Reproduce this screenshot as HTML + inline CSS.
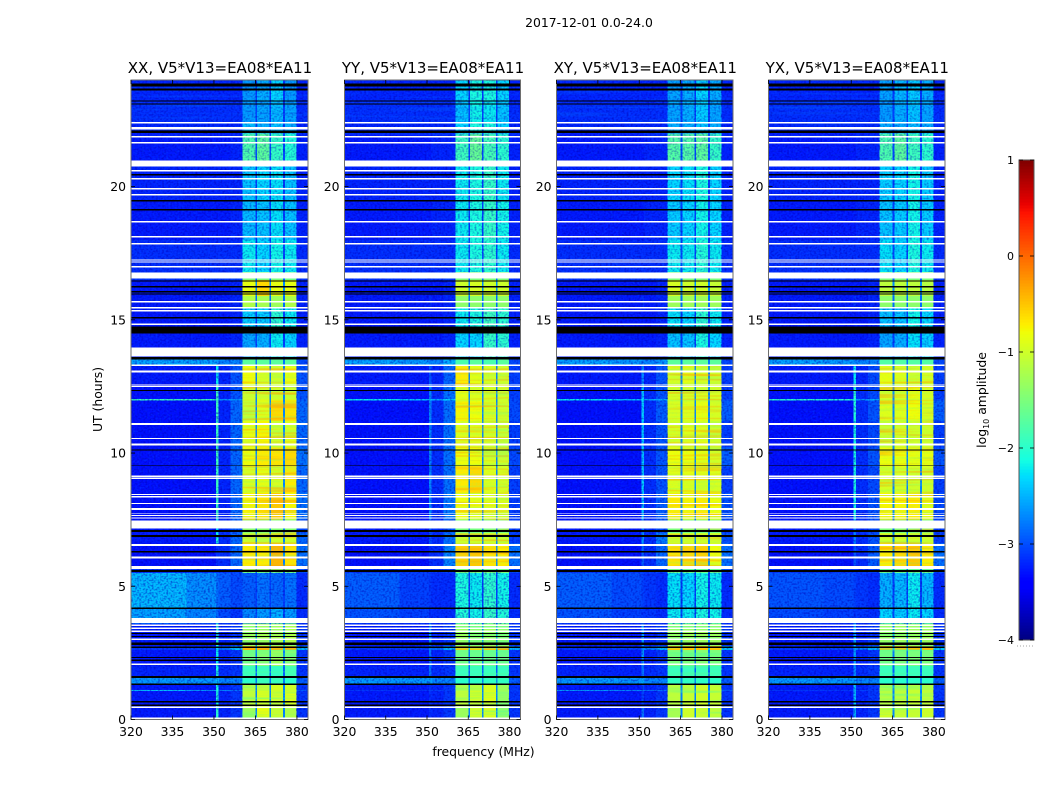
<!DOCTYPE html>
<html lang="en">
<head>
<meta charset="utf-8">
<title>2017-12-01 0.0-24.0</title>
<style>
html,body{margin:0;padding:0;background:#fff;width:1050px;height:800px;overflow:hidden}
svg{display:block}
text{font-family:"DejaVu Sans","Liberation Sans",sans-serif;fill:#000}
</style>
</head>
<body>
<svg id="figure" width="1050" height="800" viewBox="0 0 1050 800" xmlns="http://www.w3.org/2000/svg">
<defs>
<filter id="grainDark" x="0" y="0" width="100%" height="100%" color-interpolation-filters="sRGB">
<feTurbulence type="fractalNoise" baseFrequency="0.48 0.55" numOctaves="1" seed="4"/>
<feColorMatrix type="matrix" values="0 0 0 0 0  0 0 0 0 0  0 0 0 0 0.72  3 0 0 0 -1.3"/>
</filter>
<filter id="grainLight" x="0" y="0" width="100%" height="100%" color-interpolation-filters="sRGB">
<feTurbulence type="fractalNoise" baseFrequency="0.45 0.55" numOctaves="1" seed="11"/>
<feColorMatrix type="matrix" values="0 0 0 0 0  0 0 0 0 0.4  0 0 0 0 1  0 3 0 0 -1.55"/>
</filter>
<filter id="grainStripe" x="0" y="0" width="100%" height="100%" color-interpolation-filters="sRGB">
<feTurbulence type="fractalNoise" baseFrequency="0.012 0.38" numOctaves="1" seed="7"/>
<feColorMatrix type="matrix" values="0 0 0 0 1  0 0 0 0 0.62  0 0 0 0 0  4 0 0 0 -2"/>
</filter>
<filter id="grainGreenStripe" x="0" y="0" width="100%" height="100%" color-interpolation-filters="sRGB">
<feTurbulence type="fractalNoise" baseFrequency="0.015 0.42" numOctaves="1" seed="19"/>
<feColorMatrix type="matrix" values="0 0 0 0 0.3  0 0 0 0 1  0 0 0 0 0.6  0 4 0 0 -1.9"/>
</filter>
<filter id="grainGreen" x="0" y="0" width="100%" height="100%" color-interpolation-filters="sRGB">
<feTurbulence type="fractalNoise" baseFrequency="0.5 0.55" numOctaves="1" seed="23"/>
<feColorMatrix type="matrix" values="0 0 0 0 0.5  0 0 0 0 1  0 0 0 0 0.4  3 0 0 0 -1.45"/>
</filter>
<filter id="grainStreak" x="0" y="0" width="100%" height="100%" color-interpolation-filters="sRGB">
<feTurbulence type="fractalNoise" baseFrequency="0.008 0.45" numOctaves="1" seed="31"/>
<feColorMatrix type="matrix" values="0 0 0 0 0  0 0 0 0 0.45  0 0 0 0 1  3 0 0 0 -1.5"/>
</filter>
</defs>
<text x="589" y="27" font-size="12.4" text-anchor="middle">2017-12-01 0.0-24.0</text>
<text x="483.5" y="756" font-size="12.4" text-anchor="middle">frequency (MHz)</text>
<text transform="translate(102,399.5) rotate(-90)" font-size="12.4" text-anchor="middle">UT (hours)</text>
<text transform="translate(986,400) rotate(-90)" font-size="12.4" text-anchor="middle">log<tspan font-size="8" dy="3">10</tspan><tspan dy="-3"> amplitude</tspan></text>
<g id="panels"></g>
<g id="colorbar"></g>
</svg>
<script>
// ---- axis data ----
const xTicks = [320, 335, 350, 365, 380];
const yTicks = [0, 5, 10, 15, 20];
const cbTicks = [1, 0, -1, -2, -3, -4];
const panelTitles = ['XX, V5*V13=EA08*EA11', 'YY, V5*V13=EA08*EA11', 'XY, V5*V13=EA08*EA11', 'YX, V5*V13=EA08*EA11'];

// frequency bins (MHz): left, bg, line, near1, near2, b1, gap, b2, gap, b3, gap, b4, right
const freqEdges = [320, 340, 350.8, 351.7, 356, 360.3, 365, 365.6, 370, 370.6, 375, 375.6, 379.8, 384];

// time bins (hours, top to bottom)
const timeEdges = [24, 23.2, 22.4, 22, 20.9, 19.5, 18, 16.8, 16.5, 15.9, 15.45, 14.5, 13.55, 13.26, 12.6, 12.02, 11.97, 11.2, 10.2, 9.5, 8.5, 7.5, 7, 6.6, 5.7, 5.5, 4.2, 3.6, 2.75, 2.6, 2, 1.55, 1.35, 1.11, 1.07, 0.45, 0];

// log10 amplitude in the dips between receiver bands, one value per time bin
const gapLevels = [-3.1,-3.05,-3,-3,-3.05,-3.05,-3,-2.85,-2.7,-2.85,-3.05,-3.05,-2.8,-2.8,-2.75,-2.75,-2.75,-2.75,-2.75,-2.75,-2.75,-2.9,-2.75,-2.75,-2.9,-3.05,-3,-2.75,-2.5,-2.8,-2.9,-2.8,-2.75,-2.7,-2.75,-2.75];

// log10 amplitude outside the bands: [left, bg, line, near1, near2, right]
const contextXX = [
[-3.2,-3.2,-3.2,-3.2,-3.2,-3.2],[-3.15,-3.15,-3.15,-3.15,-3.15,-3.15],[-3.2,-3.2,-3.2,-3.2,-3.2,-3.2],[-3.25,-3.25,-3.25,-3.25,-3.2,-3.2],
[-3.2,-3.2,-3.2,-3.2,-3.2,-3.2],[-3.25,-3.25,-3.25,-3.25,-3.2,-3.2],[-3.15,-3.15,-3.15,-3.15,-3.15,-3.15],[-3.1,-3.1,-3.1,-3.1,-3.05,-3.1],
[-3.25,-3.25,-3.25,-3.25,-3.2,-3.2],[-3.25,-3.25,-3.25,-3.25,-3.2,-3.2],[-3.25,-3.25,-3.25,-3.25,-3.2,-3.2],[-3.25,-3.25,-3.25,-3.25,-3.2,-3.2],
[-2.55,-2.55,-2.6,-2.7,-2.7,-3],[-3.25,-3.25,-2.2,-3.2,-2.95,-2.95],[-3.3,-3.3,-1.9,-3.2,-2.95,-2.95],[-1.9,-1.9,-1.9,-2.6,-2.6,-2.9],
[-3.3,-3.3,-1.9,-3.2,-2.85,-2.85],[-3.3,-3.3,-1.9,-3.2,-2.85,-2.85],[-3.3,-3.3,-1.9,-3.2,-2.85,-2.8],[-3.3,-3.3,-1.9,-3.2,-2.85,-2.85],
[-3.3,-3.3,-1.9,-3.2,-2.85,-2.8],[-3.25,-3.25,-2.3,-3.15,-2.9,-3],[-3.25,-3.25,-2.1,-3.15,-2.85,-2.85],[-3.3,-3.3,-3.15,-3.15,-2.85,-2.8],
[-3.1,-3.1,-3.1,-3.1,-3.05,-3],[-2.45,-2.65,-2.8,-2.9,-3,-3.15],[-2.55,-2.7,-2.85,-3,-3.1,-3.15],[-3.25,-3.25,-2,-3.2,-3.1,-3.1],
[-3.1,-3.05,-2.3,-2.8,-2.4,-2.5],[-3.25,-3.25,-2.2,-3.2,-3.1,-3.1],[-3.2,-3.2,-2.1,-3.15,-3.1,-3.1],[-2.6,-2.6,-2.3,-2.7,-2.7,-2.9],
[-3.25,-3.25,-2.1,-3.2,-3.1,-3.1],[-2.4,-2.6,-2.1,-2.7,-2.8,-2.9],[-3.25,-3.25,-2.1,-3.2,-3.1,-3.1],[-3.25,-3.25,-2,-3.2,-3.1,-3.1]
];
const contextYY = [
[-3.2,-3.2,-3.2,-3.2,-3.2,-3.2],[-3.15,-3.15,-3.15,-3.15,-3.15,-3.15],[-3.2,-3.2,-3.2,-3.2,-3.2,-3.2],[-3.25,-3.25,-3.25,-3.2,-3.2,-3.2],
[-3.2,-3.2,-3.2,-3.2,-3.2,-3.2],[-3.25,-3.25,-3.25,-3.2,-3.2,-3.2],[-3.15,-3.15,-3.15,-3.15,-3.15,-3.15],[-3.1,-3.1,-3.1,-3.1,-3.05,-3.1],
[-3.25,-3.25,-3.25,-3.25,-3.2,-3.2],[-3.25,-3.25,-3.15,-3.25,-3.2,-3.2],[-3.25,-3.25,-3.25,-3.25,-3.2,-3.2],[-3.25,-3.25,-3.25,-3.25,-3.2,-3.2],
[-2.55,-2.6,-2.7,-2.7,-2.5,-3],[-3.25,-3.25,-2.95,-3.2,-2.85,-3.05],[-3.3,-3.3,-2.7,-3.15,-2.8,-3.05],[-2.2,-2.4,-2.4,-2.5,-2.3,-3],
[-3.3,-3.3,-2.7,-3.15,-2.8,-3],[-3.3,-3.3,-2.7,-3.15,-2.8,-3.05],[-3.3,-3.3,-2.7,-3.15,-2.8,-3],[-3.3,-3.3,-2.7,-3.15,-2.8,-3.05],
[-3.3,-3.3,-2.65,-3.15,-2.75,-3.05],[-3.25,-3.25,-2.95,-3.15,-2.9,-3.05],[-3.25,-3.25,-2.95,-3.15,-2.8,-3.05],[-3.3,-3.3,-3.15,-3.15,-2.7,-2.8],
[-3.1,-3.1,-3.1,-3.1,-3.05,-3],[-2.9,-3.05,-3.1,-3.15,-3.15,-3.15],[-2.95,-3.05,-3.15,-3.15,-3.15,-3.15],[-3.25,-3.25,-2.65,-3.2,-3.1,-3.1],
[-3.1,-3.05,-2.75,-2.85,-2.5,-2.5],[-3.25,-3.25,-2.8,-3.2,-3.1,-3.1],[-3.2,-3.2,-2.8,-3.15,-3.1,-3.1],[-2.6,-2.6,-2.5,-2.7,-2.7,-2.9],
[-3.25,-3.25,-3.15,-3.2,-3.1,-3.1],[-3.1,-3.1,-3.05,-3.05,-3.05,-3.05],[-3.25,-3.25,-3.15,-3.2,-3.1,-3.1],[-3.25,-3.25,-3.15,-3.2,-3.1,-3.1]
];
const contextXY = [
[-3.2,-3.2,-3.2,-3.2,-3.2,-3.2],[-3.15,-3.15,-3.15,-3.15,-3.15,-3.15],[-3.2,-3.2,-3.2,-3.2,-3.2,-3.2],[-3.25,-3.25,-3.25,-3.2,-3.2,-3.2],
[-3.2,-3.2,-3.2,-3.2,-3.2,-3.2],[-3.25,-3.25,-3.25,-3.2,-3.2,-3.2],[-3.15,-3.15,-3.15,-3.15,-3.15,-3.15],[-3.1,-3.1,-3.1,-3.1,-3.05,-3.1],
[-3.25,-3.25,-3.25,-3.25,-3.2,-3.2],[-3.25,-3.25,-3.15,-3.25,-3.2,-3.2],[-3.25,-3.25,-3.25,-3.25,-3.2,-3.2],[-3.25,-3.25,-3.25,-3.25,-3.2,-3.2],
[-2.55,-2.6,-2.7,-2.7,-2.6,-3],[-3.25,-3.25,-2.7,-3.2,-2.95,-3.05],[-3.3,-3.3,-2.4,-3.15,-2.95,-3.05],[-2.2,-2.4,-2.3,-2.5,-2.5,-3],
[-3.3,-3.3,-2.35,-3.15,-2.9,-2.9],[-3.3,-3.3,-2.4,-3.15,-2.95,-3.05],[-3.3,-3.3,-2.4,-3.15,-2.95,-2.9],[-3.3,-3.3,-2.35,-3.15,-2.95,-3.05],
[-3.3,-3.3,-2.4,-3.15,-2.9,-2.95],[-3.25,-3.25,-2.8,-3.15,-2.95,-3.05],[-3.25,-3.25,-2.6,-3.15,-2.75,-2.95],[-3.3,-3.3,-2.9,-3.15,-2.85,-2.8],
[-3.1,-3.1,-3.1,-3.1,-3.05,-3],[-2.9,-3,-3.05,-3.1,-3.15,-3.15],[-2.95,-3.05,-3.1,-3.1,-3.15,-3.15],[-3.25,-3.25,-2.6,-3.2,-3.1,-3.1],
[-3.1,-3.05,-2.7,-2.75,-2.5,-2.4],[-3.25,-3.25,-2.6,-3.2,-3.1,-3.1],[-3.2,-3.2,-2.8,-3.15,-3.1,-3.1],[-2.6,-2.6,-2.5,-2.7,-2.7,-2.9],
[-3.25,-3.25,-3.05,-3.2,-3.1,-3.1],[-2.6,-2.7,-2.7,-2.8,-2.8,-2.9],[-3.25,-3.25,-3.05,-3.2,-3.1,-3.1],[-3.25,-3.25,-2.8,-3.2,-3.1,-3.1]
];
const contextYX = [
[-3.2,-3.2,-3.2,-3.2,-3.2,-3.2],[-3.15,-3.15,-3.15,-3.15,-3.15,-3.15],[-3.2,-3.2,-3.2,-3.2,-3.2,-3.2],[-3.25,-3.25,-3.25,-3.2,-3.2,-3.2],
[-3.2,-3.2,-3.2,-3.2,-3.2,-3.2],[-3.25,-3.25,-3.25,-3.2,-3.2,-3.2],[-3.15,-3.15,-3.15,-3.15,-3.15,-3.15],[-3.1,-3.1,-3.1,-3.1,-3.05,-3.1],
[-3.25,-3.25,-3.25,-3.25,-3.2,-3.2],[-3.25,-3.25,-3.15,-3.25,-3.2,-3.2],[-3.25,-3.25,-3.25,-3.25,-3.2,-3.2],[-3.25,-3.25,-3.25,-3.25,-3.2,-3.2],
[-2.55,-2.6,-2.7,-2.7,-2.7,-3],[-3.25,-3.25,-2.2,-3.2,-3,-3.05],[-3.3,-3.3,-2,-3.15,-3,-3.05],[-2,-2,-2.1,-2.6,-2.5,-3],
[-3.3,-3.3,-2.05,-3.15,-2.95,-2.9],[-3.3,-3.3,-2.1,-3.15,-3,-3.05],[-3.3,-3.3,-2.1,-3.15,-2.95,-2.95],[-3.3,-3.3,-2.1,-3.15,-3,-3.05],
[-3.3,-3.3,-2.1,-3.15,-2.95,-3],[-3.25,-3.25,-2.8,-3.15,-3,-3.05],[-3.25,-3.25,-2.75,-3.15,-2.95,-3.05],[-3.3,-3.3,-2.95,-3.15,-2.9,-2.8],
[-3.1,-3.1,-3.1,-3.1,-3.05,-3],[-2.95,-3,-3.05,-3.1,-3.15,-3.15],[-3,-3.05,-3.1,-3.1,-3.15,-3.15],[-3.25,-3.25,-2.5,-3.2,-3.1,-3.1],
[-3.1,-3.05,-2.5,-2.75,-2.5,-2.4],[-3.25,-3.25,-2.6,-3.2,-3.1,-3.1],[-3.2,-3.2,-2.7,-3.15,-3.1,-3.1],[-2.6,-2.6,-2.5,-2.7,-2.7,-2.9],
[-3.25,-3.25,-2.4,-3.2,-3.1,-3.1],[-3.1,-3.1,-2.4,-3.05,-3.05,-3.05],[-3.25,-3.25,-2.4,-3.2,-3.1,-3.1],[-3.25,-3.25,-2.4,-3.2,-3.1,-3.1]
];

// log10 amplitude in the four receiver bands: [b1, b2, b3, b4]
const bandsXX = [
[-2.6,-2.5,-2.3,-2.6],[-2.6,-2.55,-2.45,-2.55],[-2.4,-2.5,-2.4,-2.5],[-1.8,-1.7,-1.95,-2.05],[-2.4,-2.3,-2.25,-2.4],[-2.45,-2.4,-2.25,-2.4],
[-2.2,-2.3,-2.15,-2.2],[-1.5,-1.5,-1.5,-1.6],[-0.85,-0.6,-0.85,-0.85],[-1.2,-1.25,-1.3,-1.2],[-2.35,-2.35,-2,-2.2],[-2.55,-2.5,-2.2,-2.3],
[-1.7,-1.7,-1.7,-1.7],[-0.8,-0.95,-1,-0.8],[-1,-1,-1,-1],[-1,-0.9,-0.9,-0.9],[-1.05,-0.9,-0.6,-0.65],[-0.85,-0.75,-1,-0.9],
[-0.8,-0.7,-0.65,-0.6],[-0.95,-0.85,-0.95,-0.7],[-0.75,-0.65,-0.5,-0.75],[-1.4,-1.4,-1.4,-1.4],[-1,-1.1,-1,-1],[-0.7,-0.7,-0.4,-0.65],
[-1.6,-1.6,-1.6,-1.6],[-2.9,-2.8,-2.85,-2.8],[-2.7,-2.6,-2.5,-2.6],[-1.3,-1.25,-1.25,-1.2],[-0.4,-0.4,-0.4,-0.4],[-1.55,-1.45,-1.3,-1.45],
[-1.9,-1.9,-1.95,-1.85],[-2,-1.9,-1.9,-2],[-1.15,-1.1,-0.95,-1],[-1.1,-1,-0.9,-1],[-1.1,-0.95,-1,-0.9],[-1.3,-0.85,-1.05,-1.2]
];
const bandsYY = [
[-2.3,-2.1,-2.1,-2.3],[-2.4,-2.15,-2.2,-2.4],[-2.3,-2.1,-2.1,-2.3],[-1.9,-1.65,-1.85,-2],[-2.2,-2.1,-1.95,-2.2],[-2.2,-2.1,-1.95,-2.15],
[-2.2,-2.1,-2,-2.2],[-1.5,-1.5,-1.5,-1.5],[-1,-0.95,-1,-1],[-1.4,-1.4,-1.4,-1.4],[-2.2,-2.1,-1.9,-2],[-2.3,-2.3,-1.95,-2],
[-1.8,-1.7,-1.8,-1.7],[-0.7,-0.85,-0.95,-1],[-0.85,-0.9,-0.95,-1],[-0.85,-0.9,-0.95,-1],[-0.75,-0.8,-0.95,-1],[-0.9,-0.9,-0.95,-1.05],
[-0.8,-0.8,-0.95,-1],[-0.7,-0.6,-0.9,-0.95],[-0.8,-0.85,-0.9,-0.95],[-1.5,-1.5,-1.5,-1.5],[-1,-1,-1,-1.05],[-0.55,-0.5,-0.65,-0.7],
[-1.5,-1.5,-1.5,-1.5],[-2.1,-2.2,-2,-2.15],[-2.05,-2.15,-1.95,-2.05],[-1.3,-1.4,-1.3,-1.4],[-0.5,-0.55,-0.5,-0.4],[-1.55,-1.6,-1.6,-1.6],
[-1.9,-1.9,-1.9,-1.9],[-2,-2,-2,-2],[-1.2,-1.15,-0.95,-1.3],[-1.2,-1.1,-0.95,-1.3],[-1.1,-1,-0.9,-1.35],[-1.3,-1,-0.95,-1.4]
];
const bandsXY = [
[-2.55,-2.5,-2.3,-2.5],[-2.55,-2.5,-2.35,-2.55],[-2.5,-2.5,-2.4,-2.5],[-1.75,-1.75,-1.7,-1.95],[-2.3,-2.25,-2.1,-2.3],[-2.35,-2.3,-2.15,-2.3],
[-2.2,-2.2,-2.05,-2.2],[-1.5,-1.5,-1.5,-1.5],[-0.95,-1,-1,-1.05],[-1.3,-1.3,-1.3,-1.3],[-2.25,-2.3,-2,-2.2],[-2.4,-2.4,-2.1,-2.3],
[-1.7,-1.7,-1.7,-1.7],[-0.95,-0.85,-0.95,-1],[-0.95,-0.95,-0.95,-0.95],[-0.95,-0.95,-0.95,-0.95],[-0.95,-0.9,-0.85,-0.95],[-0.95,-0.9,-0.9,-1],
[-0.8,-0.8,-0.85,-0.95],[-0.9,-0.85,-0.9,-0.9],[-0.7,-0.75,-0.7,-0.8],[-1.5,-1.5,-1.5,-1.5],[-1,-1,-1,-1],[-0.65,-0.6,-0.55,-0.8],
[-1.6,-1.6,-1.6,-1.6],[-2.25,-2.3,-2.15,-2.2],[-2.2,-2.2,-2.1,-2.15],[-1.35,-1.3,-1.3,-1.3],[-0.5,-0.5,-0.5,-0.5],[-1.5,-1.5,-1.45,-1.5],
[-1.9,-1.9,-1.9,-1.9],[-2,-2,-2,-2],[-1.15,-1.1,-1,-1.05],[-1.15,-1.1,-1,-1.05],[-1.1,-1.05,-1,-1.05],[-1.25,-1,-1.05,-1.1]
];
const bandsYX = [
[-2.55,-2.45,-2.35,-2.5],[-2.6,-2.5,-2.4,-2.55],[-2.5,-2.5,-2.4,-2.5],[-1.8,-1.7,-1.9,-2],[-2.35,-2.3,-2.15,-2.35],[-2.4,-2.35,-2.15,-2.35],
[-2.25,-2.3,-2.1,-2.2],[-1.5,-1.5,-1.5,-1.5],[-1.1,-1.1,-1.1,-1.15],[-1.4,-1.4,-1.4,-1.4],[-2.4,-2.4,-2.15,-2.3],[-2.55,-2.5,-2.25,-2.35],
[-1.75,-1.75,-1.75,-1.75],[-0.85,-0.9,-1,-0.95],[-0.95,-0.95,-0.85,-0.95],[-0.95,-0.95,-0.9,-0.95],[-0.9,-0.9,-0.8,-0.95],[-1,-0.95,-1,-1],
[-0.8,-0.8,-0.85,-0.85],[-0.95,-0.95,-1,-1],[-0.75,-0.75,-0.7,-0.85],[-1.5,-1.5,-1.5,-1.5],[-1,-1,-1,-1],[-0.7,-0.6,-0.5,-0.7],
[-1.6,-1.6,-1.6,-1.6],[-2.5,-2.45,-2.2,-2.45],[-2.3,-2.35,-2.2,-2.3],[-1.35,-1.3,-1.3,-1.3],[-0.45,-0.5,-0.45,-0.45],[-1.55,-1.5,-1.5,-1.5],
[-1.9,-1.9,-1.9,-1.9],[-2,-2,-2,-2],[-1.2,-1.15,-1.05,-1.1],[-1.2,-1.15,-1.05,-1.1],[-1.15,-1.1,-1.05,-1.1],[-1,-1.05,-1.05,-1]
];
const panelContexts = [contextXX, contextYY, contextXY, contextYX];
const panelBands = [bandsXX, bandsYY, bandsXY, bandsYX];

// flagged time ranges (hours)
const whiteFlags = [[22.42,22.37],[22.23,22.14],[21.9,21.84],[21.67,21.62],[20.98,20.75],[20.62,20.57],[20.32,20.26],[19.95,19.89],[19.72,19.67],[18.71,18.65],[18.15,18.09],[17.89,17.83],[17.27,17.23],[17.19,17.15],[17.02,16.97],[16.78,16.55],[15.71,15.65],[15.49,15.43],[15.37,15.32],[14.87,14.81],[13.97,13.63],[13.33,13.26],[13.09,13.03],[12.58,12.54],[12.51,12.47],[11.12,11.06],[10.57,10.52],[10.35,10.29],[9.15,9.09],[9.07,9.02],[8.46,8.42],[8.38,8.34],[8.12,8.08],[7.93,7.87],[7.74,7.71],[7.67,7.63],[7.59,7.55],[7.46,7.16],[6.58,6.52],[6.11,6.05],[5.76,5.64],[3.81,3.62],[3.56,3.51],[3.45,3.39],[3.34,3.28],[3.04,2.98],[2.1,2.04],[0.49,0.43],[0.075,0.02]];
const blackFlags = [[23.87,23.75],[23.68,23.6],[23.23,23.19],[23.12,23.08],[22.1,22.01],[20.47,20.42],[19.5,19.44],[19.16,19.1],[16.48,16.44],[16.27,16.22],[16.08,16.03],[15.99,15.95],[15.11,15.05],[14.75,14.49],[13.61,13.52],[12.37,12.32],[10.14,10.1],[9.54,9.51],[7.11,7.03],[6.92,6.84],[6.32,6.26],[5.61,5.53],[4.2,4.14],[3.24,3.21],[3.13,3.09],[2.89,2.79],[2.74,2.68],[2.34,2.31],[2.25,2.19],[1.63,1.56],[1.35,1.29],[0.69,0.64],[0.56,0.51]];

// ---- layout ----
const SVGNS = 'http://www.w3.org/2000/svg';
const panelBoxes = [{l:131,r:308},{l:344.5,r:520.5},{l:556.5,r:733},{l:768.5,r:945}];
const plotTop = 80, plotBottom = 719.5;
const cbox = {l:1019, r:1034, t:160, b:640};
const xDomain = [320, 384], yDomain = [0, 24], cDomain = [-4, 1];

function xScale(box, f){ return box.l + (f - xDomain[0]) / (xDomain[1] - xDomain[0]) * (box.r - box.l); }
function yScale(t){ return plotBottom - (t - yDomain[0]) / (yDomain[1] - yDomain[0]) * (plotBottom - plotTop); }
function cScale(v){ return cbox.b - (v - cDomain[0]) / (cDomain[1] - cDomain[0]) * (cbox.b - cbox.t); }

function interp(stops, x){
  for (let i = 1; i < stops.length; i++) {
    if (x <= stops[i][0]) {
      const a = stops[i-1], b = stops[i];
      return a[1] + (b[1]-a[1]) * (x-a[0]) / (b[0]-a[0]);
    }
  }
  return stops[stops.length-1][1];
}
const jetR = [[0,0],[0.35,0],[0.66,1],[0.89,1],[1,0.5]];
const jetG = [[0,0],[0.125,0],[0.375,1],[0.64,1],[0.91,0],[1,0]];
const jetB = [[0,0.5],[0.11,1],[0.34,1],[0.65,0],[1,0]];
function jet(v){
  const n = Math.max(0, Math.min(1, (v - cDomain[0]) / (cDomain[1] - cDomain[0])));
  return 'rgb(' + [jetR, jetG, jetB].map(s => Math.round(interp(s, n) * 255)).join(',') + ')';
}
function make(tag, attrs, parent){
  const el = document.createElementNS(SVGNS, tag);
  for (const k in attrs) el.setAttribute(k, attrs[k]);
  parent.appendChild(el);
  return el;
}

const panelsRoot = document.getElementById('panels');
const panelNames = ['xx', 'yy', 'xy', 'yx'];

panelBoxes.forEach(function(box, p){
  const g = make('g', {}, panelsRoot);
  
  
  const context = panelContexts[p], bands = panelBands[p];

  timeEdges.slice(0, -1).forEach(function(t0, r){
    const t1 = timeEdges[r + 1];
    const c = context[r], b = bands[r], gap = gapLevels[r];
    const levels = [c[0], c[1], c[2], c[3], c[4], b[0], gap, b[1], gap, b[2], gap, b[3], c[5]];
    levels.forEach(function(level, k){
      const x0 = xScale(box, freqEdges[k]), x1 = xScale(box, freqEdges[k + 1]);
      const y0 = yScale(t0), y1 = yScale(t1);
      const cell = make('rect', {x: x0.toFixed(2), y: y0.toFixed(2), width: (x1 - x0 + 0.3).toFixed(2), height: (y1 - y0 + 0.3).toFixed(2), fill: jet(level), 'shape-rendering': 'crispEdges'}, g);
      
      
    });
  });

  // pixel speckle over the spectrogram
  const w = box.r - box.l, h = plotBottom - plotTop;
  const bandLeft = xScale(box, 360.3), bandRight = xScale(box, 379.8);
  const darkBg = make('rect', {x: box.l, y: plotTop, width: bandLeft - box.l, height: h, filter: 'url(#grainDark)', opacity: 0.55}, g);
  
  
  const lightBg = make('rect', {x: box.l, y: plotTop, width: bandLeft - box.l, height: h, filter: 'url(#grainLight)', opacity: 0.32}, g);
  
  
  const streak = make('rect', {x: box.l, y: plotTop, width: w, height: yScale(21.9) - plotTop, filter: 'url(#grainStreak)', opacity: 0.35}, g);
  
  
  const darkRight = make('rect', {x: bandRight, y: plotTop, width: box.r - bandRight, height: h, filter: 'url(#grainDark)', opacity: 0.5}, g);
  
  
  const darkBand = make('rect', {x: bandLeft, y: plotTop, width: bandRight - bandLeft, height: yScale(16.8) - plotTop, filter: 'url(#grainDark)', opacity: 0.42}, g);
  
  
  const darkBandMid = make('rect', {x: bandLeft, y: yScale(15.45), width: bandRight - bandLeft, height: yScale(13.55) - yScale(15.45), filter: 'url(#grainDark)', opacity: 0.42}, g);
  
  
  const darkBandLow = make('rect', {x: bandLeft, y: yScale(5.5), width: bandRight - bandLeft, height: yScale(3.6) - yScale(5.5), filter: 'url(#grainDark)', opacity: 0.5}, g);
  
  
  const greenSpeck = make('rect', {x: bandLeft, y: yScale(13.3), width: bandRight - bandLeft, height: yScale(5.6) - yScale(13.3), filter: 'url(#grainGreen)', opacity: 0.18}, g);
  
  
  const greenSpeckLow = make('rect', {x: bandLeft, y: yScale(3.6), width: bandRight - bandLeft, height: yScale(0) - yScale(3.6), filter: 'url(#grainGreenStripe)', opacity: 0.45}, g);
  
  
  const stripes = make('rect', {x: bandLeft, y: yScale(13.3), width: bandRight - bandLeft, height: yScale(5.6) - yScale(13.3), filter: 'url(#grainStripe)', opacity: 0.6}, g);
  
  
  const greenStripes = make('rect', {x: bandLeft, y: yScale(13.3), width: bandRight - bandLeft, height: yScale(5.6) - yScale(13.3), filter: 'url(#grainGreenStripe)', opacity: 0.2}, g);
  
  

  whiteFlags.forEach(function(f){
    const mark = make('rect', {x: box.l, y: yScale(f[0]).toFixed(2), width: w, height: (yScale(f[1]) - yScale(f[0])).toFixed(2), fill: '#fff', 'shape-rendering': 'crispEdges'}, g);
    
    
  });
  blackFlags.forEach(function(f){
    const mark = make('rect', {x: box.l, y: yScale(f[0]).toFixed(2), width: w, height: (yScale(f[1]) - yScale(f[0])).toFixed(2), fill: '#000', 'shape-rendering': 'crispEdges'}, g);
    
    
  });

  const frame = make('rect', {x: box.l, y: plotTop, width: w, height: h, fill: 'none', stroke: '#6e6e6e', 'stroke-width': 1}, g);
  
  

  xTicks.forEach(function(v){
    const x = xScale(box, v);
    const tickB = make('line', {x1: x, x2: x, y1: plotBottom, y2: plotBottom - 4, stroke: '#000', 'stroke-width': 0.8}, g);
    
    
    const tickT = make('line', {x1: x, x2: x, y1: plotTop, y2: plotTop + 4, stroke: '#000', 'stroke-width': 0.8}, g);
    
    
    const label = make('text', {x: x, y: 736, 'font-size': 12.4, 'text-anchor': 'middle'}, g);
    
    
    label.textContent = v;
  });
  yTicks.forEach(function(v){
    const y = yScale(v);
    const tickL = make('line', {x1: box.l, x2: box.l + 4, y1: y, y2: y, stroke: '#000', 'stroke-width': 0.8}, g);
    
    
    const tickR = make('line', {x1: box.r, x2: box.r - 4, y1: y, y2: y, stroke: '#000', 'stroke-width': 0.8}, g);
    
    
    const label = make('text', {x: box.l - 5, y: y + 4.5, 'font-size': 12.4, 'text-anchor': 'end'}, g);
    
    
    label.textContent = v;
  });

  const title = make('text', {x: (box.l + box.r) / 2 + 0.5, y: 73, 'font-size': 15, 'text-anchor': 'middle'}, g);
  
  
  title.textContent = panelTitles[p];
});

// ---- colorbar ----
const cbRoot = document.getElementById('colorbar');
const cbSteps = 160;
for (let i = 0; i < cbSteps; i++) {
  const v0 = cDomain[0] + (cDomain[1] - cDomain[0]) * i / cbSteps;
  const v1 = cDomain[0] + (cDomain[1] - cDomain[0]) * (i + 1) / cbSteps;
  const swatch = make('rect', {x: cbox.l, y: cScale(v1).toFixed(2), width: cbox.r - cbox.l, height: (cScale(v0) - cScale(v1) + 0.4).toFixed(2), fill: jet((v0 + v1) / 2), 'shape-rendering': 'crispEdges'}, cbRoot);
  
  
}
const cbFrame = make('rect', {x: cbox.l, y: cbox.t, width: cbox.r - cbox.l, height: cbox.b - cbox.t, fill: 'none', stroke: '#555', 'stroke-width': 1}, cbRoot);


cbTicks.forEach(function(v){
  const y = cScale(v);
  const tickL = make('line', {x1: cbox.l, x2: cbox.l + 4, y1: y, y2: y, stroke: '#000', 'stroke-width': 0.8}, cbRoot);
  
  
  const tickR = make('line', {x1: cbox.r, x2: cbox.r - 4, y1: y, y2: y, stroke: '#000', 'stroke-width': 0.8}, cbRoot);
  
  
  const label = make('text', {x: cbox.l - 5, y: y + 4, 'font-size': 11, 'text-anchor': 'end'}, cbRoot);
  
  
  label.textContent = String(v).replace('-', '\u2212');
});
const dots = make('line', {x1: cbox.l - 2, x2: cbox.r + 1, y1: 646, y2: 646, stroke: '#888', 'stroke-width': 0.8, 'stroke-dasharray': '1 2'}, cbRoot);


</script>
</body>
</html>
